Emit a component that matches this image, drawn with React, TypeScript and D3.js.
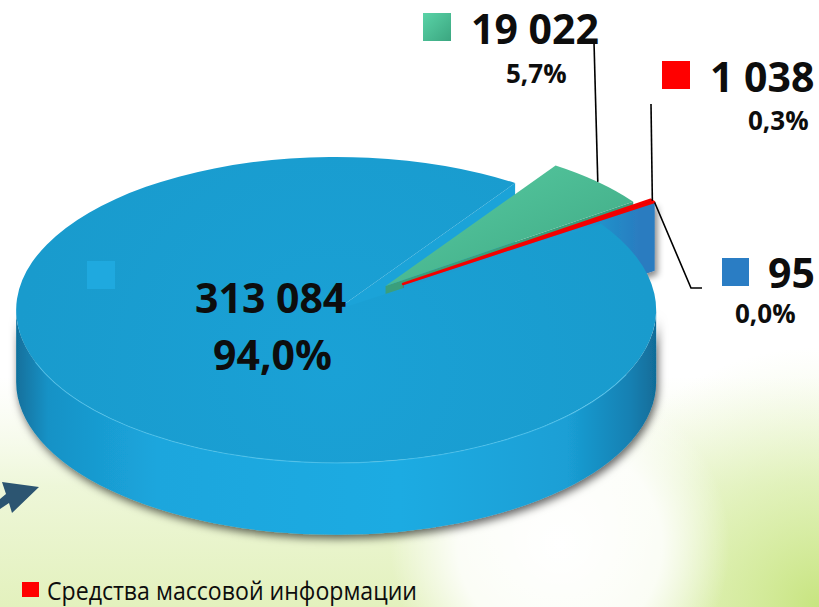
import React from "react";
import * as d3 from "d3";

// ---------- data ----------
const sliceKeys = ["s1", "s2", "s3", "s4"];
const values = [19022, 1038, 95, 313084];
const legendLabels = ["Средства массовой информации"];
const topColors = ["url(#gGreen)", "url(#gRed)", "#2a7dc2", "url(#gBigTop)"];
const faceColors = ["#3a9f7c", "#d00000", "url(#gBlueFace)", "#1ba3d8"];
const edgeColors = ["none", "#f40000", "#2a7cc0", "none"];
const edgeWidths = [0, 2.4, 1.6, 0];
const explode = [0.11, 0.16, 0.16, 0.11];
const radiusScale = [0.95, 0.95, 0.95, 1];

// ---------- layout ----------
const W = 819;
const H = 607;
const base: [number, number] = [361, 298];
const RX = 320;
const RY = 153;
const DEPTH = 72;
const START_DEG = 34;

const loc = d3.formatLocale({ decimal: ",", thousands: " ", grouping: [3], currency: ["", ""] });
const fmtNum = loc.format(",d");
const fmtPct = loc.format(".1%");

type Slice = {
  i: number;
  a: number;
  b: number;
  c: [number, number];
  rx: number;
  ry: number;
  h: number;
};

const P = (c: [number, number], rx: number, ry: number, t: number, dz = 0): [number, number] => [
  c[0] + rx * Math.cos(t),
  c[1] + ry * Math.sin(t) + dz,
];
const pt = (p: [number, number]) => `${p[0].toFixed(2)},${p[1].toFixed(2)}`;

function topPath(s: Slice) {
  const p0 = P(s.c, s.rx, s.ry, s.a);
  const p1 = P(s.c, s.rx, s.ry, s.b);
  const large = s.b - s.a > Math.PI ? 1 : 0;
  return `M${pt(s.c)}L${pt(p0)}A${s.rx},${s.ry} 0 ${large} 1 ${pt(p1)}Z`;
}

function wallPaths(s: Slice) {
  const out: string[] = [];
  for (let k = -2; k <= 2; k++) {
    const lo = Math.max(s.a, 2 * Math.PI * k);
    const hi = Math.min(s.b, 2 * Math.PI * k + Math.PI);
    if (hi - lo > 1e-4) {
      const p0 = P(s.c, s.rx, s.ry, lo);
      const p1 = P(s.c, s.rx, s.ry, hi);
      const p2 = P(s.c, s.rx, s.ry, hi, s.h);
      const p3 = P(s.c, s.rx, s.ry, lo, s.h);
      out.push(
        `M${pt(p0)}A${s.rx},${s.ry} 0 0 1 ${pt(p1)}L${pt(p2)}A${s.rx},${s.ry} 0 0 0 ${pt(p3)}Z`
      );
    }
  }
  return out;
}

function radialFace(s: Slice, t: number) {
  const p0 = P(s.c, s.rx, s.ry, t);
  const p1 = P(s.c, s.rx, s.ry, t, s.h);
  const c1: [number, number] = [s.c[0], s.c[1] + s.h];
  return `M${pt(s.c)}L${pt(p0)}L${pt(p1)}L${pt(c1)}Z`;
}

export default function App() {
  const total = d3.sum(values);
  const st = (START_DEG * Math.PI) / 180;
  const arcs = d3
    .pie<number>()
    .sort(null)
    .value((d) => d)
    .startAngle(st)
    .endAngle(st + 2 * Math.PI)(values);

  const slices: Slice[] = arcs.map((d, i) => {
    const a = d.startAngle - Math.PI / 2;
    const b = d.endAngle - Math.PI / 2;
    const m = (a + b) / 2;
    const c: [number, number] = [
      base[0] + explode[i] * RX * Math.cos(m),
      base[1] + explode[i] * RY * Math.sin(m),
    ];
    return { i, a, b, c, rx: RX * radiusScale[i], ry: RY * radiusScale[i], h: DEPTH * radiusScale[i] };
  });

  const big = slices[3];
  const small = slices.slice(0, 3);

  const mid = (s: Slice) => (s.a + s.b) / 2;
  const rimMid = (s: Slice) => P(s.c, s.rx, s.ry, mid(s));

  const pctText = (v: number) => fmtPct(v / total);

  const gRim = rimMid(slices[0]);
  const rRim = rimMid(slices[1]);
  const bRim = P(slices[2].c, slices[2].rx, slices[2].ry, slices[2].b);

  const numStyle: React.CSSProperties = {
    fontFamily: "'Open Sans', 'DejaVu Sans', sans-serif",
    fontWeight: 700,
    fill: "#0d0d0d",
  };

  return (
    <svg
      width={W}
      height={H}
      viewBox={`0 0 ${W} ${H}`}
      style={{ position: "absolute", left: 0, top: 0, display: "block" }}
    >
      <defs>
        <linearGradient id="bgV" x1="0" y1="0" x2="0" y2="1">
          <stop offset="0" stopColor="#ffffff" stopOpacity="0" />
          <stop offset="0.62" stopColor="#f4f9e6" stopOpacity="0" />
          <stop offset="0.8" stopColor="#eef7d9" stopOpacity="1" />
          <stop offset="1" stopColor="#e3f1bd" stopOpacity="1" />
        </linearGradient>
        <radialGradient id="bgWhite" cx="560" cy="545" r="170" gradientUnits="userSpaceOnUse">
          <stop offset="0" stopColor="#ffffff" stopOpacity="1" />
          <stop offset="0.6" stopColor="#ffffff" stopOpacity="0.85" />
          <stop offset="1" stopColor="#ffffff" stopOpacity="0" />
        </radialGradient>
        <radialGradient id="bgCorner" cx="819" cy="607" r="260" gradientUnits="userSpaceOnUse">
          <stop offset="0" stopColor="#c7e47f" stopOpacity="1" />
          <stop offset="0.5" stopColor="#d9eea8" stopOpacity="0.6" />
          <stop offset="1" stopColor="#e9f5cc" stopOpacity="0" />
        </radialGradient>
        <linearGradient id="gWall" gradientUnits="userSpaceOnUse" x1={big.c[0] - big.rx} y1="0" x2={big.c[0] + big.rx} y2="0">
          <stop offset="0" stopColor="#11709c" />
          <stop offset="0.05" stopColor="#1792c6" />
          <stop offset="0.22" stopColor="#1ba6dd" />
          <stop offset="0.6" stopColor="#1dabe2" />
          <stop offset="0.86" stopColor="#1a9fd5" />
          <stop offset="0.96" stopColor="#1580b2" />
          <stop offset="1" stopColor="#116c98" />
        </linearGradient>
        <linearGradient id="gBlueFace" gradientUnits="userSpaceOnUse" x1="580" y1="0" x2="640" y2="0">
          <stop offset="0" stopColor="#1a9cd0" />
          <stop offset="1" stopColor="#2a7cc0" />
        </linearGradient>
        <radialGradient id="gBigTop" gradientUnits="userSpaceOnUse" cx={big.c[0]} cy={big.c[1] + 60} r={big.rx}>
          <stop offset="0" stopColor="#1aa1d6" />
          <stop offset="1" stopColor="#199bcd" />
        </radialGradient>
        <linearGradient id="gGreen" x1="0" y1="0" x2="1" y2="1">
          <stop offset="0" stopColor="#58cca2" />
          <stop offset="1" stopColor="#3ea783" />
        </linearGradient>
        <linearGradient id="gGreenKey" x1="0" y1="0" x2="1" y2="1">
          <stop offset="0" stopColor="#5ad3a7" />
          <stop offset="1" stopColor="#3ba680" />
        </linearGradient>
        <linearGradient id="gRed" x1="0" y1="0" x2="1" y2="0">
          <stop offset="0" stopColor="#ff0000" />
          <stop offset="1" stopColor="#e80000" />
        </linearGradient>
        <filter id="shadow" x="-10%" y="-20%" width="120%" height="150%">
          <feDropShadow dx="2" dy="4" stdDeviation="4" floodColor="#000" floodOpacity="0.6" />
        </filter>
        <filter id="shadowSm" x="-50%" y="-50%" width="200%" height="200%">
          <feDropShadow dx="3" dy="4" stdDeviation="3" floodColor="#000" floodOpacity="0.45" />
        </filter>
      </defs>

      {/* background */}
      <rect x={0} y={0} width={W} height={H} fill="#ffffff" />
      <rect x={0} y={0} width={W} height={H} fill="url(#bgV)" />
      <rect x={0} y={0} width={W} height={H} fill="url(#bgCorner)" />
      <rect x={0} y={0} width={W} height={H} fill="url(#bgWhite)" />

      {/* decorative arrow */}
      <polygon points="0,499 6,494 2,482 39,487 12,513 9,503 0,509" fill="#2c5571" />

      {/* big slice: visible radial faces first */}
      {Math.cos(big.b) > 0 && <path d={radialFace(big, big.b)} fill={faceColors[3]} />}
      {Math.cos(big.a) < 0 && <path d={radialFace(big, big.a)} fill={faceColors[3]} />}

      {/* small slices */}
      {small.map((s) => (
        <g key={sliceKeys[s.i]}>
          {Math.cos(s.a) < 0 && <path d={radialFace(s, s.a)} fill={faceColors[s.i]} />}
          {Math.cos(s.b) > 0 && (
            <path d={radialFace(s, s.b)} fill={faceColors[s.i]} filter={s.i === 2 ? "url(#shadowSm)" : undefined} />
          )}
          {wallPaths(s).map((d, k) => (
            <path key={k} d={d} fill={faceColors[s.i]} />
          ))}
        </g>
      ))}
      {small
        .slice()
        .reverse()
        .map((s) => (
          <path
            key={"t" + sliceKeys[s.i]}
            d={topPath(s)}
            fill={topColors[s.i]}
            stroke={edgeColors[s.i]}
            strokeWidth={edgeWidths[s.i]}
            strokeLinejoin="round"
          />
        ))}

      {/* big slice wall + top */}
      <g filter="url(#shadow)">
        {wallPaths(big).map((d, k) => (
          <path key={k} d={d} fill="url(#gWall)" />
        ))}
      </g>
      <path d={topPath(big)} fill={topColors[3]} />
      <path
        d={(() => {
          const t0 = (25 * Math.PI) / 180;
          const t1 = (160 * Math.PI) / 180;
          const p0 = P(big.c, big.rx, big.ry, t0);
          const p1 = P(big.c, big.rx, big.ry, t1);
          return `M${pt(p0)}A${big.rx},${big.ry} 0 0 1 ${pt(p1)}`;
        })()}
        fill="none"
        stroke="#5fcdf5"
        strokeOpacity={0.55}
        strokeWidth={1.2}
      />

      {/* key marker inside big slice */}
      <rect x={87} y={261} width={28} height={28} fill="#1fa9df" />

      {/* leader lines */}
      <g stroke="#000" strokeWidth={1.6} fill="none">
        <line x1={594} y1={42} x2={gRim[0]} y2={gRim[1]} />
        <line x1={651} y1={104} x2={rRim[0]} y2={rRim[1]} />
        <polyline points={`${bRim[0]},${bRim[1]} 691,288 702,288`} />
      </g>

      {/* labels */}
      <rect x={423} y={13} width={28} height={28} fill="url(#gGreenKey)" />
      <text x={471} y={44} fontSize={41} style={numStyle}>{fmtNum(values[0])}</text>
      <text x={506} y={83} fontSize={26} style={numStyle}>{pctText(values[0])}</text>

      <rect x={662} y={61} width={28} height={28} fill="#ff0000" />
      <text x={710} y={92} fontSize={41} style={numStyle}>{fmtNum(values[1])}</text>
      <text x={748} y={130} fontSize={26} style={numStyle}>{pctText(values[1])}</text>

      <rect x={722} y={258} width={27} height={28} fill="#2a7dc4" />
      <text x={768} y={288} fontSize={41} style={numStyle}>{fmtNum(values[2])}</text>
      <text x={735} y={323} fontSize={26} style={numStyle}>{pctText(values[2])}</text>

      <text x={195} y={313} fontSize={41} style={numStyle}>{fmtNum(values[3])}</text>
      <text x={213} y={370} fontSize={41} style={numStyle}>{pctText(values[3])}</text>

      {/* legend */}
      <rect x={22} y={582} width={17} height={15} fill="#ff0000" />
      <text
        x={47}
        y={600}
        fontSize={25}
        textLength={370}
        lengthAdjust="spacingAndGlyphs"
        style={{ fontFamily: "'Open Sans', 'DejaVu Sans', sans-serif", fill: "#0d0d0d" }}
      >
        {legendLabels[0]}
      </text>
    </svg>
  );
}
